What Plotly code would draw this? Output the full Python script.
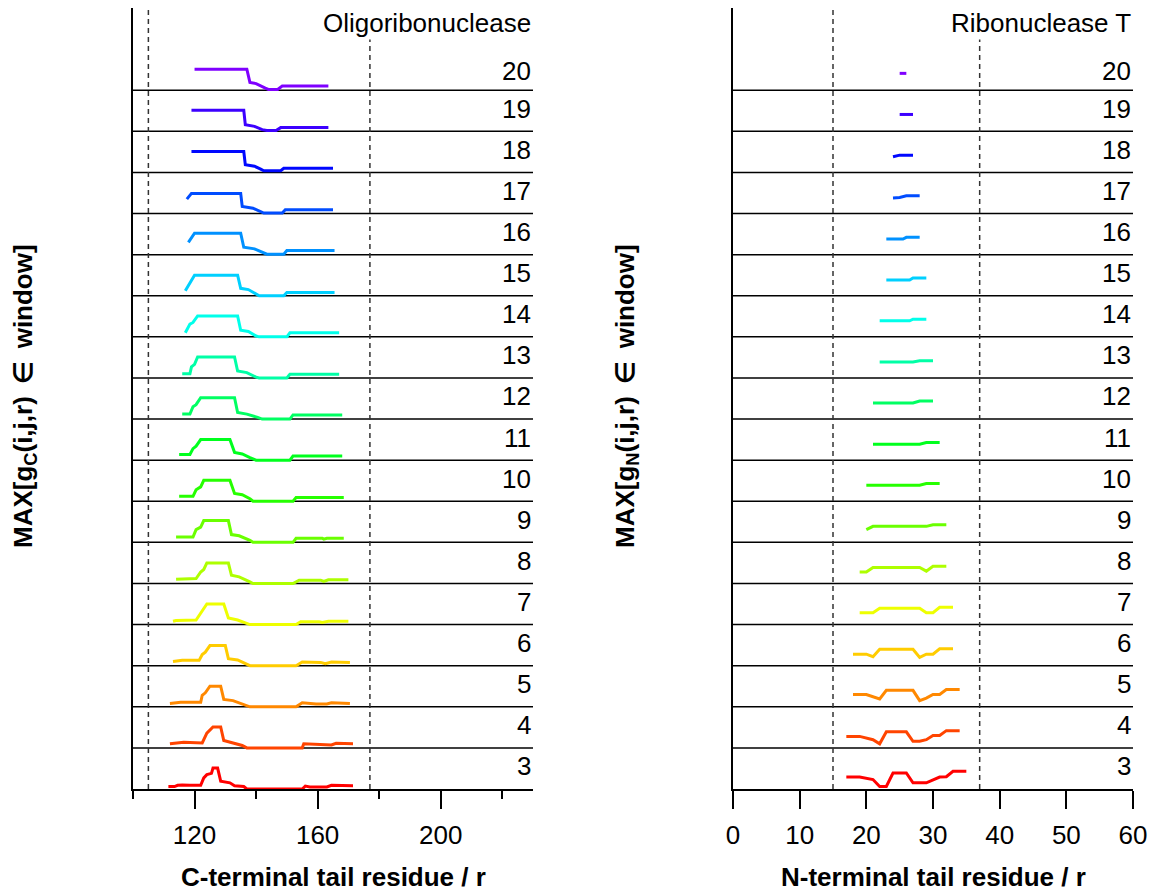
import plotly.graph_objects as go

# Sliding-window sizes, one stacked row each (bottom = 3, top = 20)
windows = list(range(3, 21))

# Oligoribonuclease, C-terminal tail: residue r and MAX[g_C] per window (rows 3..20)
orn_r = [
    [111.5, 113.5, 114.5, 116, 118.5, 122, 123, 124, 125.5, 126, 127.5, 128.5, 131.5, 133, 136, 137, 155, 156, 157.5, 163, 164.5, 171.5],
    [112, 116.5, 122.5, 123.5, 124, 126, 128.5, 129.5, 133, 135.5, 137, 155, 155.5, 159.5, 164.5, 166, 171.5],
    [112, 115.5, 122, 122.5, 123.5, 125, 128.5, 129.5, 132.5, 135.5, 138, 153, 155, 159.5, 163, 164.5, 170.5],
    [113, 116, 121.5, 122.5, 123.5, 125, 130, 131, 134, 136.5, 138, 153, 155, 161, 162.5, 164.5, 170.5],
    [113, 114, 120.5, 122, 122.5, 124, 129.5, 131, 134, 137, 138, 153, 154.5, 160.5, 161.5, 163.5, 170],
    [114, 120.5, 122, 123, 124, 131, 132, 134.5, 138, 139, 152, 154, 161, 162, 163.5, 170],
    [114, 119.5, 120.5, 122, 123, 131, 132, 134.5, 138, 139, 152, 153, 161.5, 162, 163, 168.5],
    [115, 119.5, 120.5, 122, 123, 131.5, 133, 135.5, 138, 139, 152, 153, 168.5],
    [115, 118.5, 119.5, 120.5, 122, 131.5, 133, 135.5, 138, 140, 151, 152, 168],
    [116, 118.5, 119.5, 120.5, 122, 133, 134, 137, 140.5, 142, 151, 152, 168],
    [116, 118.5, 119, 120, 121, 133, 134, 137, 140, 141, 150, 151, 167],
    [117, 118.5, 119.5, 121, 134, 135, 137.5, 140, 141, 150, 151, 167],
    [117, 118.5, 119, 120, 134, 135, 137.5, 140, 141, 149, 150, 165.5],
    [118, 118.5, 120, 135, 136, 139.5, 142, 143.5, 149, 150, 165.5],
    [117.5, 119, 135, 135.5, 139, 141.5, 142.5, 148.5, 149.5, 165],
    [119, 136, 136.5, 139.5, 141.5, 142.5, 148, 149, 165],
    [119, 136, 136.5, 139.5, 142, 143.5, 146.5, 148, 163.5],
    [120, 137, 138, 140, 143, 144, 147, 148.5, 163.5],
]
orn_g = [
    [0.06, 0.06, 0.09, 0.10, 0.09, 0.09, 0.27, 0.35, 0.38, 0.51, 0.51, 0.19, 0.15, 0.08, 0.06, 0.0, 0.0, 0.07, 0.05, 0.05, 0.09, 0.08],
    [0.10, 0.14, 0.12, 0.28, 0.36, 0.51, 0.51, 0.18, 0.12, 0.06, 0.0, 0.0, 0.10, 0.08, 0.07, 0.11, 0.10],
    [0.08, 0.11, 0.11, 0.28, 0.34, 0.50, 0.50, 0.18, 0.15, 0.06, 0.0, 0.0, 0.10, 0.07, 0.07, 0.10, 0.08],
    [0.10, 0.13, 0.13, 0.27, 0.33, 0.49, 0.49, 0.17, 0.14, 0.05, 0.0, 0.0, 0.09, 0.08, 0.05, 0.09, 0.08],
    [0.08, 0.10, 0.11, 0.27, 0.32, 0.50, 0.50, 0.16, 0.11, 0.04, 0.0, 0.0, 0.07, 0.07, 0.05, 0.08, 0.08],
    [0.10, 0.12, 0.28, 0.34, 0.50, 0.50, 0.20, 0.16, 0.04, 0.0, 0.0, 0.08, 0.08, 0.05, 0.09, 0.09],
    [0.13, 0.13, 0.31, 0.37, 0.53, 0.53, 0.19, 0.16, 0.05, 0.0, 0.0, 0.10, 0.10, 0.08, 0.10, 0.10],
    [0.12, 0.12, 0.28, 0.35, 0.51, 0.51, 0.19, 0.16, 0.06, 0.0, 0.0, 0.09, 0.09],
    [0.14, 0.14, 0.28, 0.34, 0.50, 0.50, 0.19, 0.15, 0.06, 0.0, 0.0, 0.10, 0.10],
    [0.12, 0.12, 0.30, 0.35, 0.52, 0.52, 0.16, 0.12, 0.04, 0.0, 0.0, 0.10, 0.10],
    [0.10, 0.10, 0.27, 0.33, 0.51, 0.51, 0.17, 0.13, 0.02, 0.0, 0.0, 0.09, 0.09],
    [0.10, 0.31, 0.35, 0.51, 0.51, 0.16, 0.13, 0.02, 0.0, 0.0, 0.10, 0.10],
    [0.12, 0.31, 0.35, 0.50, 0.50, 0.18, 0.15, 0.04, 0.0, 0.0, 0.08, 0.08],
    [0.30, 0.36, 0.52, 0.52, 0.18, 0.14, 0.06, 0.01, 0.01, 0.10, 0.10],
    [0.35, 0.49, 0.49, 0.17, 0.13, 0.05, 0.01, 0.01, 0.09, 0.09],
    [0.51, 0.51, 0.19, 0.15, 0.08, 0.04, 0.04, 0.10, 0.10],
    [0.51, 0.51, 0.16, 0.12, 0.04, 0.02, 0.02, 0.09, 0.09],
    [0.51, 0.51, 0.19, 0.16, 0.05, 0.02, 0.02, 0.10, 0.10],
]

# Ribonuclease T, N-terminal tail: residue r and MAX[g_N] per window (rows 3..20)
rnt_r = [
    [17, 19, 21, 22, 23, 24, 26, 27, 29, 30, 31, 32, 33, 35],
    [17, 19, 21, 22, 23, 26, 27, 28, 29, 30, 31, 32, 34],
    [18, 20, 22, 23, 27, 28, 29, 30, 31, 32, 34],
    [18, 20, 21, 22, 27, 28, 29, 30, 31, 33],
    [19, 21, 22, 28, 29, 30, 31, 33],
    [19, 20, 21, 28, 29, 30, 32],
    [20, 21, 29, 30, 32],
    [20, 28, 29, 31],
    [21, 28, 29, 31],
    [21, 27, 28, 30],
    [22, 27, 28, 30],
    [22, 26.5, 27, 29],
    [23, 26.5, 27, 29],
    [23, 25.5, 26, 28],
    [24, 25, 26, 28],
    [24, 25, 27],
    [25, 27],
    [25, 26],
]
rnt_g = [
    [0.29, 0.29, 0.23, 0.06, 0.06, 0.39, 0.39, 0.15, 0.15, 0.23, 0.29, 0.30, 0.43, 0.43],
    [0.28, 0.28, 0.20, 0.10, 0.39, 0.39, 0.16, 0.16, 0.20, 0.30, 0.30, 0.42, 0.42],
    [0.30, 0.30, 0.19, 0.40, 0.40, 0.15, 0.21, 0.30, 0.30, 0.42, 0.42],
    [0.28, 0.28, 0.22, 0.40, 0.40, 0.20, 0.28, 0.28, 0.41, 0.41],
    [0.29, 0.29, 0.40, 0.40, 0.29, 0.29, 0.42, 0.42],
    [0.28, 0.28, 0.39, 0.39, 0.30, 0.42, 0.42],
    [0.31, 0.39, 0.39, 0.43, 0.43],
    [0.39, 0.39, 0.43, 0.43],
    [0.39, 0.39, 0.43, 0.43],
    [0.39, 0.39, 0.44, 0.44],
    [0.39, 0.39, 0.42, 0.42],
    [0.39, 0.39, 0.43, 0.43],
    [0.38, 0.38, 0.43, 0.43],
    [0.38, 0.38, 0.42, 0.42],
    [0.38, 0.39, 0.43, 0.43],
    [0.38, 0.42, 0.42],
    [0.41, 0.41],
    [0.41, 0.41],
]

# Tail boundaries marked by dashed verticals
orn_bounds = [105, 177]
rnt_bounds = [15, 37]

panel_titles = ["Oligoribonuclease", "Ribonuclease T"]
x_titles = ["C-terminal tail residue / r", "N-terminal tail residue / r"]
y_titles = ["MAX[g<sub>C</sub>(i,j,r) \u2009∈\u2009 window]",
            "MAX[g<sub>N</sub>(i,j,r) \u2009∈\u2009 window]"]

FONT = "Liberation Sans, Arial, sans-serif"
W, H = 1153, 892


def row_colour(i, n):
    hue = 270.0 * i / (n - 1)
    return f"hsl({hue:.0f},100%,50%)"


fig = go.Figure()
n = len(windows)
for p, (rs, gs) in enumerate([(orn_r, orn_g), (rnt_r, rnt_g)]):
    xa = "x" if p == 0 else "x2"
    ya = "y" if p == 0 else "y2"
    for i, w in enumerate(windows):
        base = w - windows[0]
        fig.add_trace(go.Scatter(
            x=rs[i], y=[g + base for g in gs[i]], mode="lines",
            line=dict(color=row_colour(i, n), width=3),
            xaxis=xa, yaxis=ya, showlegend=False, hoverinfo="skip",
        ))

shapes = []
annotations = []
for p in range(2):
    xa = "x" if p == 0 else "x2"
    ya = "y" if p == 0 else "y2"
    # row separators
    for k in range(1, n):
        shapes.append(dict(type="line", xref=f"{xa} domain", yref=ya,
                           x0=0, x1=1, y0=k, y1=k, layer="below",
                           line=dict(color="black", width=1.5)))
    # tail boundaries
    for b in (orn_bounds if p == 0 else rnt_bounds):
        shapes.append(dict(type="line", xref=xa, yref=f"{ya} domain",
                           x0=b, x1=b, y0=0, y1=1, layer="below",
                           line=dict(color="#333333", width=1.5, dash="5px,4px")))
    # window labels
    for i, w in enumerate(windows):
        off = 0.47 if w == windows[-1] else 0.55
        annotations.append(dict(text=str(w), xref=f"{xa} domain", yref=ya,
                                x=1, y=i + off, xanchor="right", yanchor="middle",
                                showarrow=False, font=dict(size=26, color="black", family=FONT)))
    # panel title
    annotations.append(dict(text=panel_titles[p], xref=f"{xa} domain", yref="paper",
                            x=1, y=1 - 23 / H, xanchor="right", yanchor="middle",
                            showarrow=False, bgcolor="white",
                            font=dict(size=26, color="black", family=FONT)))
    # x-axis title
    annotations.append(dict(text=f"<b>{x_titles[p]}</b>", xref=f"{xa} domain", yref="paper",
                            x=0.5, y=1 - 877 / H, xanchor="center", yanchor="middle",
                            showarrow=False, font=dict(size=26, color="black", family=FONT)))
    # y-axis title
    annotations.append(dict(text=f"<b>{y_titles[p]}</b>", xref="paper", yref="paper",
                            x=(25 if p == 0 else 627) / W, y=1 - 396 / H,
                            xanchor="center", yanchor="middle", textangle=-90,
                            showarrow=False, font=dict(size=26, color="black", family=FONT)))

ydom = [(H - 789) / H, (H - 8) / H]
common_x = dict(showline=True, linecolor="black", linewidth=2, ticks="outside",
                ticklen=18, tickwidth=2, tickcolor="black", showgrid=False,
                zeroline=False, tickfont=dict(size=26, color="black", family=FONT),
                ticklabelstandoff=4, fixedrange=True, automargin=False)
common_y = dict(showline=True, linecolor="black", linewidth=2, ticks="",
                showticklabels=False, showgrid=False, zeroline=False,
                range=[0, 19], domain=ydom, fixedrange=True, automargin=False)

fig.update_layout(
    width=W, height=H, margin=dict(l=0, r=0, t=0, b=0, autoexpand=False),
    paper_bgcolor="white", plot_bgcolor="white",
    font=dict(family=FONT, color="black"),
    xaxis=dict(common_x, domain=[133 / W, 533 / W], range=[100, 230],
               tickvals=[120, 160, 200],
               minor=dict(tick0=100, dtick=20, ticklen=8, tickwidth=2,
                          tickcolor="black", ticks="outside"),
               anchor="y"),
    yaxis=dict(common_y, anchor="x"),
    xaxis2=dict(common_x, domain=[733 / W, 1133 / W], range=[0, 60],
                tickvals=[0, 10, 20, 30, 40, 50, 60], anchor="y2"),
    yaxis2=dict(common_y, anchor="x2"),
    shapes=shapes, annotations=annotations,
)

fig.write_html("out.html")
